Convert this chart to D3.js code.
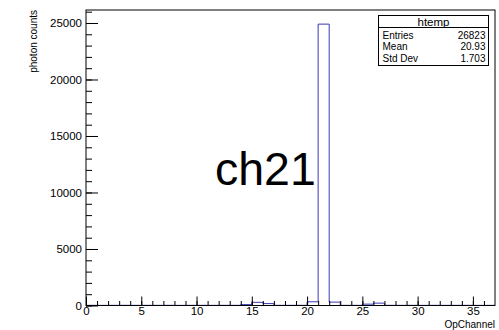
<!DOCTYPE html>
<html>
<head>
<meta charset="utf-8">
<script src="https://cdn.jsdelivr.net/npm/d3@7"></script>
<style>
  body { margin: 0; background: #fff; }
  svg text { font-family: "Liberation Sans", Arial, sans-serif; fill: #000; }
</style>
</head>
<body>
<div id="chart"></div>
<script>
// counts per OpChannel bin (0..36)
var channels = d3.range(0, 37);
var counts = [15, 12, 14, 16, 13, 15, 14, 16, 12, 15, 14, 13, 16, 15,
              80, 280, 170, 15, 14, 16, 330, 24900, 300, 15, 14,
              120, 210, 14, 13, 15, 12, 14, 13, 15, 14, 12, 13];
var xTicks = [0, 5, 10, 15, 20, 25, 30, 35];
var yTicks = [0, 5000, 10000, 15000, 20000, 25000];
var statsLabels = ["Entries", "Mean", "Std Dev"];
var statsValues = ["26823", "20.93", "1.703"];
var histName = "htemp";
var xDomain = [0, 37];
var yMax = 26150;

var width = 499,
    height = 330,
    margin = {left: 86, right: 4, top: 10, bottom: 24.5},
    svg = d3.select("#chart").append("svg")
      .attr("width", width)
      .attr("height", height),
    xScale = d3.scaleLinear().domain(xDomain).range([margin.left, width - margin.right]),
    yScale = d3.scaleLinear().domain([0, yMax]).range([height - margin.bottom, margin.top]);

var data = channels.map(function (c, i) { return {x: c, y: counts[i]}; });
var steps = data.concat([{x: xDomain[1], y: counts[counts.length - 1]}]);

// histogram outline
var line = d3.line()
  .x(function (d) { return xScale(d.x); })
  .y(function (d) { return yScale(d.y); })
  .curve(d3.curveStepAfter);

svg.append("path")
  .datum(steps)
  .attr("d", line)
  .attr("fill", "none")
  .attr("stroke", "#3a3ab8")
  .attr("stroke-width", 1);

// frame
svg.append("rect")
  .attr("x", xScale(xDomain[0]))
  .attr("y", yScale(yMax))
  .attr("width", xScale(xDomain[1]) - xScale(xDomain[0]))
  .attr("height", yScale(0) - yScale(yMax))
  .attr("fill", "none")
  .attr("stroke", "#000")
  .attr("stroke-width", 1);

// x axis: major + minor ticks pointing inwards
svg.append("g")
  .attr("transform", "translate(0," + yScale(0) + ")")
  .call(d3.axisBottom(xScale).tickValues(channels).tickSizeInner(-4.5).tickSizeOuter(0).tickFormat(""));
svg.append("g")
  .attr("transform", "translate(0," + yScale(0) + ")")
  .call(d3.axisBottom(xScale).tickValues(xTicks).tickSizeInner(-9).tickSizeOuter(0).tickPadding(1));

// y axis
var yMinor = d3.range(0, yMax, 1000);
svg.append("g")
  .attr("transform", "translate(" + xScale(0) + ",0)")
  .call(d3.axisLeft(yScale).tickValues(yMinor).tickSizeInner(-6).tickSizeOuter(0).tickFormat(""));
svg.append("g")
  .attr("transform", "translate(" + xScale(0) + ",0)")
  .call(d3.axisLeft(yScale).tickValues(yTicks).tickSizeInner(-12).tickSizeOuter(0).tickPadding(4).tickFormat(d3.format("d")));

svg.selectAll(".domain").remove();
svg.selectAll(".tick line").attr("stroke", "#000");
svg.selectAll(".tick text").style("font-size", "11.5px").style("font-family", "Liberation Sans, Arial, sans-serif");

// axis titles
svg.append("text")
  .attr("x", xScale(xDomain[1]))
  .attr("y", 328)
  .attr("text-anchor", "end")
  .style("font-size", "10px")
  .text("OpChannel");

svg.append("text")
  .attr("transform", "translate(37," + margin.top + ") rotate(-90)")
  .attr("text-anchor", "end")
  .style("font-size", "10px")
  .text("photon counts");

// big label
svg.append("text")
  .attr("x", 215)
  .attr("y", 185)
  .style("font-size", "46.5px")
  .text("ch21");

// stats box
var box = svg.append("g").attr("transform", "translate(378.5,15.5)");
box.append("rect")
  .attr("width", 110).attr("height", 50)
  .attr("fill", "#fff").attr("stroke", "#000");
box.append("line")
  .attr("x1", 0).attr("x2", 110).attr("y1", 12).attr("y2", 12)
  .attr("stroke", "#000");
box.append("text")
  .attr("x", 55).attr("y", 10.5)
  .attr("text-anchor", "middle")
  .style("font-size", "11.5px")
  .text(histName);
box.selectAll(".lab")
  .data(statsLabels)
  .enter().append("text")
  .attr("x", 4)
  .attr("y", function (d, i) { return 23 + i * 11.5; })
  .style("font-size", "10px")
  .text(function (d) { return d; });
box.selectAll(".val")
  .data(statsValues)
  .enter().append("text")
  .attr("x", 107)
  .attr("y", function (d, i) { return 23 + i * 11.5; })
  .attr("text-anchor", "end")
  .style("font-size", "10px")
  .text(function (d) { return d; });
</script>
</body>
</html>
